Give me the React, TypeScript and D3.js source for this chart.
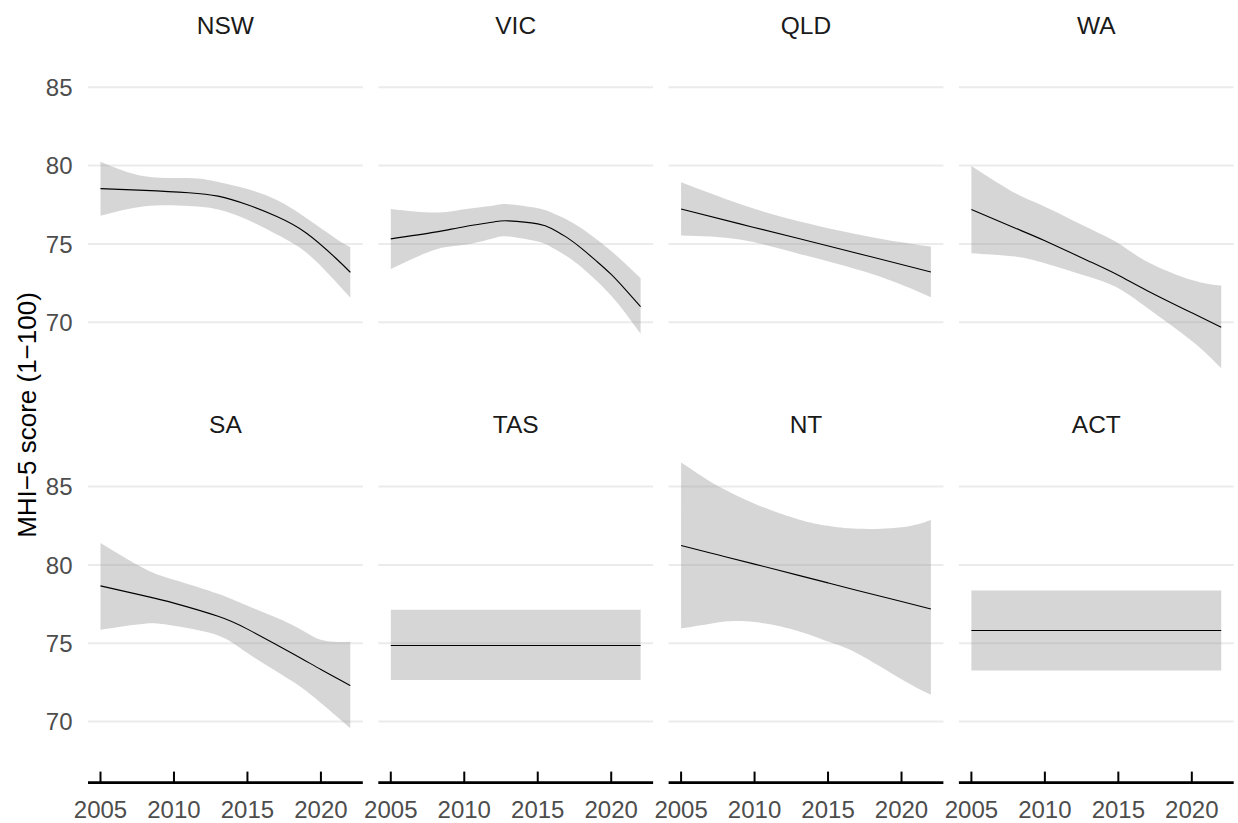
import React from "react";
import * as d3 from "d3";

// ---------- data ----------
const states = ["NSW", "VIC", "QLD", "WA", "SA", "TAS", "NT", "ACT"];
const yTicks = [70, 75, 80, 85];
const xTicks = [2005, 2010, 2015, 2020];

const nswYears = [2005, 2008, 2011, 2013, 2015, 2017, 2019, 2021, 2022];
const nswFit = [78.53, 78.42, 78.27, 78.05, 77.5, 76.75, 75.7, 74.1, 73.19];
const nswUpper = [80.25, 79.32, 79.2, 78.95, 78.5, 77.8, 76.65, 75.35, 74.79];
const nswLower = [76.79, 77.4, 77.42, 77.2, 76.55, 75.6, 74.45, 72.6, 71.57];

const vicYears = [2005, 2008, 2010, 2012, 2013, 2015, 2016, 2017, 2018, 2019, 2020, 2021, 2022];
const vicFit = [75.32, 75.75, 76.1, 76.4, 76.47, 76.28, 75.95, 75.4, 74.7, 73.9, 73.05, 72.05, 71.0];
const vicUpper = [77.23, 77.0, 77.21, 77.45, 77.53, 77.28, 76.98, 76.55, 75.98, 75.3, 74.55, 73.7, 72.81];
const vicLower = [73.4, 74.62, 74.94, 75.36, 75.47, 75.15, 74.75, 74.2, 73.5, 72.65, 71.7, 70.55, 69.26];

const qldYears = [2005, 2009, 2013, 2018, 2022];
const qldFit = [77.23, 76.28, 75.34, 74.16, 73.21];
const qldUpper = [78.94, 77.55, 76.45, 75.43, 74.83];
const qldLower = [75.53, 75.28, 74.38, 73.08, 71.6];

const waYears = [2005, 2008, 2010, 2013, 2015, 2017, 2020, 2022];
const waFit = [77.19, 76.0, 75.2, 73.9, 73.0, 72.0, 70.6, 69.68];
const waUpper = [79.98, 78.23, 77.38, 76.0, 75.04, 73.85, 72.7, 72.34];
const waLower = [74.41, 74.19, 73.77, 72.9, 72.17, 70.9, 68.8, 67.06];

const saYears = [2005, 2008, 2010, 2013, 2015, 2018, 2020, 2022];
const saFit = [78.66, 78.02, 77.56, 76.72, 75.9, 74.38, 73.32, 72.3];
const saUpper = [81.39, 79.75, 79.05, 78.15, 77.39, 76.2, 75.22, 75.1];
const saLower = [75.86, 76.25, 76.11, 75.5, 74.37, 72.6, 71.18, 69.58];

const tasYears = [2005, 2022];
const tasFit = [74.85, 74.85];
const tasUpper = [77.13, 77.13];
const tasLower = [72.66, 72.66];

const ntYears = [2005, 2007, 2008, 2010, 2013, 2015, 2017, 2020, 2022];
const ntFit = [81.24, 80.76, 80.52, 80.05, 79.33, 78.85, 78.37, 77.66, 77.18];
const ntUpper = [86.53, 85.3, 84.79, 83.9, 82.9, 82.49, 82.3, 82.4, 82.87];
const ntLower = [75.94, 76.24, 76.38, 76.35, 75.77, 75.11, 74.35, 72.7, 71.71];

const actYears = [2005, 2022];
const actFit = [75.81, 75.81];
const actUpper = [78.36, 78.36];
const actLower = [73.26, 73.26];

const series = [
  { years: nswYears, fit: nswFit, upper: nswUpper, lower: nswLower },
  { years: vicYears, fit: vicFit, upper: vicUpper, lower: vicLower },
  { years: qldYears, fit: qldFit, upper: qldUpper, lower: qldLower },
  { years: waYears, fit: waFit, upper: waUpper, lower: waLower },
  { years: saYears, fit: saFit, upper: saUpper, lower: saLower },
  { years: tasYears, fit: tasFit, upper: tasUpper, lower: tasLower },
  { years: ntYears, fit: ntFit, upper: ntUpper, lower: ntLower },
  { years: actYears, fit: actFit, upper: actUpper, lower: actLower },
];

// ---------- layout ----------
const W = 1238;
const H = 823;
const panelLeft0 = 88;
const panelW = 274.8;
const panelGap = 15.5;
const rowTop0 = 49;
const panelH = 333.9;
const rowStep = 399.3;
const FONT = "'Liberation Sans', Arial, Helvetica, sans-serif";

const xScale = d3.scaleLinear().domain([2004.15, 2022.85]).range([0, panelW]);
const yScale = d3.scaleLinear().domain([66.13, 87.44]).range([panelH, 0]);

export default function App() {
  const curve = d3.curveNatural;
  return (
    <svg
      width={W}
      height={H}
      style={{ position: "absolute", left: 0, top: 0, background: "#fff" }}
      fontFamily={FONT}
    >
      <rect x={0} y={0} width={W} height={H} fill="#fff" />
      {states.map((st, i) => {
        const col = i % 4;
        const row = Math.floor(i / 4);
        const px = panelLeft0 + col * (panelW + panelGap);
        const py = rowTop0 + row * rowStep;
        const s = series[i];
        const pts = s.years.map((yr, k) => ({
          x: yr,
          f: s.fit[k],
          u: s.upper[k],
          l: s.lower[k],
        }));
        const area = d3
          .area<any>()
          .x((d) => xScale(d.x))
          .y0((d) => yScale(d.l))
          .y1((d) => yScale(d.u))
          .curve(curve);
        const line = d3
          .line<any>()
          .x((d) => xScale(d.x))
          .y((d) => yScale(d.f))
          .curve(curve);
        return (
          <g key={st} transform={`translate(${px},${py})`}>
            {yTicks.map((t) => (
              <line
                key={t}
                x1={0}
                x2={panelW}
                y1={yScale(t)}
                y2={yScale(t)}
                stroke="#ebebeb"
                strokeWidth={2}
              />
            ))}
            <path d={area(pts) || ""} fill="#999999" fillOpacity={0.4} />
            <path d={line(pts) || ""} fill="none" stroke="#000" strokeWidth={1.1} />
            <text
              x={panelW / 2}
              y={-15.5}
              textAnchor="middle"
              fontSize={24.5}
              fill="#1a1a1a"
            >
              {st}
            </text>
            {col === 0 &&
              yTicks.map((t) => (
                <text
                  key={t}
                  x={-15.5}
                  y={yScale(t)}
                  dy="0.36em"
                  textAnchor="end"
                  fontSize={24}
                  fill="#4d4d4d"
                >
                  {t}
                </text>
              ))}
            {row === 1 && (
              <g>
                <line
                  x1={0}
                  x2={panelW}
                  y1={panelH + 0.4}
                  y2={panelH + 0.4}
                  stroke="#000"
                  strokeWidth={2.8}
                />
                {xTicks.map((t) => (
                  <g key={t}>
                    <line
                      x1={xScale(t)}
                      x2={xScale(t)}
                      y1={panelH - 10.6}
                      y2={panelH}
                      stroke="#000"
                      strokeWidth={2}
                    />
                    <text
                      x={xScale(t)}
                      y={panelH + 35.7}
                      textAnchor="middle"
                      fontSize={24}
                      fill="#4d4d4d"
                    >
                      {t}
                    </text>
                  </g>
                ))}
              </g>
            )}
          </g>
        );
      })}
      <text
        transform={`translate(35.5,415) rotate(-90)`}
        textAnchor="middle"
        fontSize={26}
        fill="#000"
      >
        MHI−5 score (1−100)
      </text>
    </svg>
  );
}
